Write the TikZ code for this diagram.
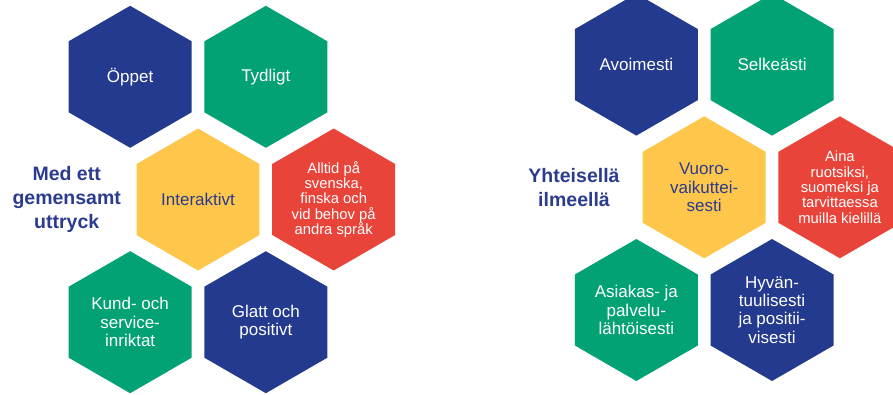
\documentclass[tikz,border=0pt]{standalone}
\usepackage{fontspec}
\setmainfont{Liberation Sans}
\usetikzlibrary{shapes.geometric,positioning}
\definecolor{hexblue}{HTML}{243A8E}
\definecolor{hexgreen}{HTML}{02A274}
\definecolor{hexyellow}{HTML}{FEC64B}
\definecolor{hexred}{HTML}{E9443A}
\definecolor{titleblue}{HTML}{2B3B8E}
\tikzset{
  hexcell/.style={regular polygon, regular polygon sides=6, shape border rotate=30,
    minimum size=142pt, inner sep=0pt, draw=none, fill=#1, text=white, align=center,
    font=\fontsize{17}{18.3}\selectfont},
  smalltext/.style={font=\fontsize{14.8}{15.4}\selectfont},
  darktext/.style={text=titleblue},
  heading/.style={align=center, text=titleblue, font=\fontsize{19.5}{24}\selectfont\bfseries}
}
\begin{document}
\begin{tikzpicture}[x=1pt,y=-1pt]
\clip (0,0) rectangle (893,394);
\def\dx{67.85}
\def\dy{122.7}
% swedish group
\node[hexcell=hexyellow, darktext] (sv-mid) at (198,199.5) {Interaktivt};
\node[hexcell=hexblue] (sv-tl) at ([shift={(-\dx,-\dy)}]sv-mid) {Öppet};
\node[hexcell=hexgreen] (sv-tr) at ([shift={(\dx,-\dy)}]sv-mid) {Tydligt};
\node[hexcell=hexred, smalltext] (sv-r) at ([shift={(2*\dx,0)}]sv-mid) {Alltid på\\svenska,\\finska och\\vid behov på\\andra språk};
\node[hexcell=hexgreen] (sv-bl) at ([shift={(-\dx,\dy)}]sv-mid) {Kund- och\\service-\\inriktat};
\node[hexcell=hexblue] (sv-br) at ([shift={(\dx,\dy)}]sv-mid) {Glatt och\\positivt};
\node[heading] (sv-title) at ([xshift=-131.3pt]sv-mid.center) {Med ett\\gemensamt\\uttryck};
% finnish group
\node[hexcell=hexyellow, darktext] (fi-mid) at (704.2,187.3) {Vuoro-\\vaikuttei-\\sesti};
\node[hexcell=hexblue] (fi-tl) at ([shift={(-\dx,-\dy)}]fi-mid) {Avoimesti};
\node[hexcell=hexgreen] (fi-tr) at ([shift={(\dx,-\dy)}]fi-mid) {Selkeästi};
\node[hexcell=hexred, smalltext] (fi-r) at ([shift={(2*\dx,0)}]fi-mid) {Aina\\ruotsiksi,\\suomeksi ja\\tarvittaessa\\muilla kielillä};
\node[hexcell=hexgreen] (fi-bl) at ([shift={(-\dx,\dy)}]fi-mid) {Asiakas- ja\\palvelu-\\lähtöisesti};
\node[hexcell=hexblue] (fi-br) at ([shift={(\dx,\dy)}]fi-mid) {Hyvän-\\tuulisesti\\ja positii-\\visesti};
\node[heading] (fi-title) at ([xshift=-130.2pt]fi-mid.center) {Yhteisellä\\ilmeellä};
\end{tikzpicture}
\end{document}
